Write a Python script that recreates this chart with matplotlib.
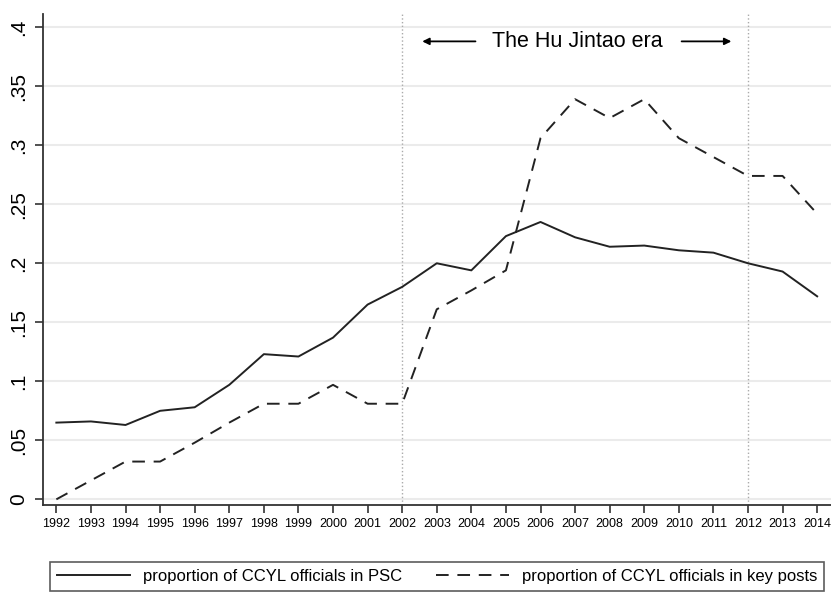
import numpy as np
import matplotlib.pyplot as plt

# data
years = list(range(1992, 2015))
psc = [0.065, 0.066, 0.063, 0.075, 0.078, 0.097, 0.123, 0.121, 0.137, 0.165, 0.180,
       0.200, 0.194, 0.223, 0.235, 0.222, 0.214, 0.215, 0.211, 0.209, 0.200, 0.193, 0.172]
key_posts = [0.0, 0.016, 0.032, 0.032, 0.048, 0.065, 0.081, 0.081, 0.097, 0.081, 0.081,
             0.161, 0.177, 0.194, 0.306, 0.339, 0.323, 0.339, 0.306, 0.290, 0.274, 0.274, 0.242]
yticks = [0, 0.05, 0.1, 0.15, 0.2, 0.25, 0.3, 0.35, 0.4]
ytick_labels = ["0", ".05", ".1", ".15", ".2", ".25", ".3", ".35", ".4"]
era_start, era_end = 2002, 2012

plt.rcParams["font.family"] = ["Liberation Sans", "DejaVu Sans"]

fig = plt.figure(figsize=(8.31, 5.93), dpi=100)
ax = fig.add_axes([0.052, 0.148, 0.948, 0.828])

ax.plot(years, psc, color="#222222", lw=1.4, label="proportion of CCYL officials in PSC")
ax.plot(years, key_posts, color="#222222", lw=1.4, linestyle=(0, (6.5, 4.5)),
        label="proportion of CCYL officials in key posts")

for x in (era_start, era_end):
    ax.axvline(x, color="#aaaaaa", lw=1.0, linestyle=":", zorder=1)

ax.set_xlim(1991.62, 2014.4)
ax.set_ylim(-0.005, 0.411)

ax.set_yticks(yticks)
ax.set_yticklabels(ytick_labels, rotation=90, va="center", fontsize=15)
ax.set_xticks(years)
ax.set_xticklabels([str(y) for y in years], fontsize=9)
ax.tick_params(axis="both", direction="out", length=6, width=1.2, color="#333333")
ax.tick_params(axis="y", pad=5)

ax.grid(axis="y", color="#ebebeb", lw=1.5)
ax.set_axisbelow(True)
for side in ("top", "right"):
    ax.spines[side].set_visible(False)
for side in ("left", "bottom"):
    ax.spines[side].set_color("#333333")
    ax.spines[side].set_linewidth(1.3)

# era annotation
ax.text(2007.05, 0.388, "The Hu Jintao era", ha="center", va="center", fontsize=15.5)
ax.annotate("", xy=(2002.5, 0.388), xytext=(2004.2, 0.388),
            arrowprops=dict(arrowstyle="-|>", color="black", lw=1.3, mutation_scale=10))
ax.annotate("", xy=(2011.6, 0.388), xytext=(2010.0, 0.388),
            arrowprops=dict(arrowstyle="-|>", color="black", lw=1.3, mutation_scale=10))

leg = fig.legend(loc="lower left", bbox_to_anchor=(0.06, 0.004, 0.932, 0.068),
                 mode="expand", ncol=2, fontsize=12, frameon=True, fancybox=False,
                 handlelength=4.4, borderaxespad=0, columnspacing=1.0)
leg.get_frame().set_edgecolor("#333333")
leg.get_frame().set_linewidth(1.2)

fig.savefig("out.png", dpi=100)
